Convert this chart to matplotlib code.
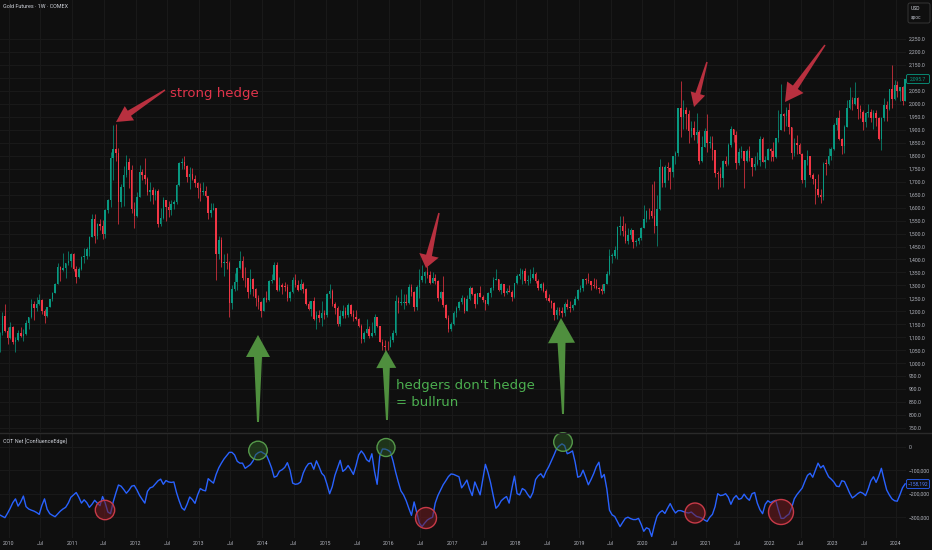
import matplotlib
matplotlib.use('Agg')
import matplotlib.pyplot as plt
from matplotlib.patches import Polygon, Circle, FancyBboxPatch
import numpy as np

plt.rcParams['font.family'] = ['Roboto', 'DejaVu Sans']

BG = '#0f0f0f'
GRID = '#1a1a1a'
TXT = '#b2b5be'
UP = '#089981'
DOWN = '#f23645'
BLUE = '#2962ff'

# ---------------------------------------------------------------
# Gold futures, half-month candles, Nov 2009 .. Feb 2024
# ---------------------------------------------------------------
first_open = 1055
closes = [
    1118, 1182, 1125, 1096,
    1140, 1083, 1090, 1118, 1105, 1113, 1155, 1180, 1228, 1212, 1228, 1244, 1200, 1181, 1215, 1248, 1272, 1307, 1370, 1358, 1367, 1386, 1396, 1421,
    1365, 1333, 1362, 1411, 1415, 1439, 1486, 1556, 1492, 1536, 1530, 1500, 1590, 1628, 1790, 1825, 1810, 1620, 1680, 1725, 1775, 1746, 1596, 1566,
    1640, 1738, 1725, 1711, 1660, 1669, 1650, 1664, 1538, 1561, 1628, 1604, 1590, 1614, 1620, 1687, 1772, 1776, 1760, 1719, 1730, 1712, 1696, 1675,
    1661, 1664, 1643, 1579, 1592, 1597, 1420, 1476, 1387, 1392, 1387, 1234, 1285, 1312, 1367, 1396, 1330, 1327, 1275, 1323, 1288, 1250, 1235, 1202,
    1253, 1244, 1318, 1321, 1379, 1284, 1303, 1295, 1294, 1250, 1275, 1322, 1302, 1282, 1305, 1287, 1228, 1210, 1238, 1171, 1185, 1175, 1195, 1184,
    1265, 1279, 1228, 1213, 1153, 1183, 1200, 1184, 1225, 1190, 1180, 1172, 1145, 1095, 1118, 1133, 1106, 1115, 1180, 1142, 1082, 1065, 1062, 1061,
    1090, 1116, 1239, 1234, 1234, 1235, 1233, 1293, 1273, 1215, 1295, 1322, 1337, 1350, 1340, 1311, 1328, 1316, 1253, 1273, 1224, 1173, 1131, 1152,
    1195, 1211, 1235, 1253, 1203, 1249, 1290, 1268, 1230, 1269, 1256, 1242, 1228, 1269, 1290, 1322, 1325, 1284, 1305, 1271, 1278, 1276, 1257, 1309,
    1338, 1345, 1356, 1318, 1318, 1327, 1345, 1318, 1290, 1305, 1278, 1253, 1241, 1233, 1184, 1206, 1201, 1195, 1230, 1215, 1211, 1226, 1248, 1284,
    1291, 1325, 1322, 1316, 1302, 1298, 1290, 1285, 1277, 1306, 1345, 1413, 1415, 1437, 1524, 1529, 1510, 1472, 1494, 1514, 1468, 1472, 1481, 1523,
    1557, 1587, 1586, 1566, 1530, 1596, 1758, 1694, 1756, 1751, 1737, 1800, 1810, 1985, 1948, 1978, 1962, 1895, 1908, 1879, 1890, 1780, 1835, 1895,
    1850, 1850, 1823, 1734, 1730, 1715, 1780, 1769, 1840, 1905, 1880, 1771, 1815, 1817, 1780, 1818, 1790, 1757, 1768, 1783, 1865, 1776, 1785, 1828,
    1817, 1797, 1870, 1900, 1960, 1954, 1975, 1911, 1810, 1848, 1840, 1807, 1706, 1782, 1800, 1726, 1710, 1672, 1650, 1640, 1770, 1768, 1800, 1826,
    1920, 1945, 1865, 1836, 1910, 1986, 2015, 1999, 2022, 1982, 1970, 1929, 1964, 1970, 1945, 1966, 1945, 1866, 1945, 1994, 1980, 2057, 2020, 2072,
    2051, 2067, 2013, 2095.7,
]
highs = [
    1120, 1196, 1227, 1140,
    1160, 1142, 1100, 1128, 1140, 1130, 1168, 1180, 1249, 1240, 1254, 1265, 1248, 1210, 1215, 1245, 1275, 1310, 1388, 1375, 1424, 1384, 1432, 1424,
    1425, 1375, 1370, 1412, 1445, 1447, 1490, 1575, 1577, 1540, 1556, 1553, 1595, 1632, 1815, 1917, 1923, 1830, 1690, 1760, 1804, 1790, 1763, 1620,
    1660, 1764, 1750, 1790, 1720, 1700, 1680, 1670, 1670, 1600, 1640, 1630, 1625, 1630, 1630, 1692, 1777, 1790, 1798, 1765, 1755, 1754, 1725, 1700,
    1695, 1700, 1685, 1645, 1616, 1616, 1590, 1490, 1488, 1420, 1425, 1395, 1300, 1347, 1370, 1433, 1412, 1370, 1330, 1362, 1330, 1290, 1262, 1240,
    1255, 1280, 1320, 1345, 1392, 1392, 1331, 1310, 1315, 1306, 1280, 1332, 1345, 1320, 1324, 1315, 1290, 1240, 1240, 1255, 1200, 1205, 1240, 1205,
    1272, 1307, 1285, 1235, 1220, 1205, 1225, 1215, 1232, 1230, 1205, 1205, 1175, 1150, 1125, 1170, 1145, 1157, 1191, 1180, 1145, 1095, 1090, 1085,
    1105, 1128, 1263, 1255, 1287, 1265, 1265, 1306, 1306, 1280, 1300, 1362, 1377, 1355, 1375, 1355, 1352, 1345, 1320, 1280, 1338, 1230, 1185, 1160,
    1200, 1220, 1240, 1264, 1255, 1262, 1296, 1295, 1270, 1272, 1296, 1262, 1245, 1275, 1295, 1331, 1362, 1325, 1310, 1306, 1290, 1300, 1282, 1310,
    1345, 1366, 1362, 1366, 1340, 1365, 1370, 1353, 1325, 1310, 1312, 1285, 1265, 1245, 1235, 1215, 1215, 1215, 1235, 1246, 1240, 1230, 1260, 1285,
    1300, 1326, 1330, 1349, 1310, 1330, 1325, 1295, 1305, 1306, 1355, 1442, 1425, 1453, 1530, 1566, 1566, 1540, 1521, 1520, 1515, 1480, 1485, 1525,
    1611, 1590, 1600, 1691, 1704, 1650, 1788, 1760, 1765, 1775, 1755, 1800, 1820, 1985, 2089, 2015, 1990, 1975, 1935, 1933, 1965, 1900, 1875, 1907,
    1962, 1875, 1875, 1815, 1740, 1755, 1785, 1798, 1850, 1916, 1905, 1895, 1830, 1836, 1815, 1825, 1836, 1790, 1800, 1815, 1877, 1872, 1800, 1831,
    1830, 1853, 1870, 1976, 2078, 1966, 1990, 2003, 1910, 1870, 1880, 1850, 1810, 1785, 1824, 1800, 1735, 1712, 1730, 1672, 1775, 1786, 1830, 1835,
    1925, 1950, 1975, 1870, 1920, 2014, 2064, 2025, 2085, 2025, 1995, 1975, 1970, 2000, 1980, 1975, 1975, 1950, 1950, 2022, 2010, 2057, 2152, 2093,
    2088, 2065, 2070, 2097,
]
lows = [
    1045, 1110, 1120, 1075,
    1095, 1075, 1044, 1085, 1100, 1087, 1110, 1130, 1175, 1165, 1200, 1225, 1190, 1155, 1180, 1215, 1240, 1270, 1305, 1316, 1355, 1330, 1380, 1370,
    1355, 1309, 1330, 1360, 1385, 1400, 1415, 1485, 1462, 1480, 1515, 1478, 1483, 1580, 1603, 1705, 1780, 1535, 1603, 1605, 1720, 1675, 1580, 1523,
    1563, 1640, 1705, 1690, 1650, 1627, 1614, 1630, 1527, 1530, 1555, 1550, 1565, 1570, 1595, 1615, 1685, 1750, 1750, 1700, 1672, 1705, 1680, 1636,
    1626, 1650, 1640, 1555, 1562, 1590, 1321, 1400, 1370, 1338, 1365, 1180, 1208, 1280, 1282, 1365, 1320, 1292, 1251, 1265, 1260, 1221, 1210, 1180,
    1202, 1235, 1238, 1310, 1320, 1280, 1277, 1268, 1280, 1240, 1240, 1270, 1295, 1280, 1282, 1272, 1225, 1204, 1183, 1165, 1131, 1160, 1142, 1170,
    1180, 1250, 1220, 1191, 1142, 1142, 1175, 1175, 1180, 1182, 1162, 1165, 1140, 1077, 1080, 1115, 1098, 1100, 1110, 1140, 1080, 1052, 1046, 1050,
    1062, 1080, 1110, 1195, 1225, 1208, 1225, 1230, 1260, 1200, 1205, 1250, 1315, 1310, 1330, 1306, 1310, 1305, 1241, 1248, 1215, 1171, 1122, 1125,
    1148, 1180, 1205, 1230, 1195, 1200, 1245, 1262, 1214, 1228, 1255, 1236, 1205, 1225, 1255, 1284, 1320, 1280, 1265, 1260, 1265, 1275, 1238, 1252,
    1305, 1325, 1307, 1310, 1303, 1308, 1325, 1310, 1282, 1282, 1275, 1245, 1235, 1211, 1167, 1170, 1185, 1180, 1182, 1210, 1196, 1205, 1225, 1242,
    1275, 1280, 1305, 1310, 1281, 1290, 1285, 1270, 1266, 1270, 1305, 1340, 1385, 1405, 1400, 1495, 1490, 1465, 1459, 1480, 1446, 1452, 1458, 1475,
    1520, 1545, 1555, 1560, 1504, 1451, 1590, 1680, 1680, 1705, 1670, 1720, 1770, 1800, 1874, 1905, 1905, 1851, 1873, 1860, 1850, 1767, 1775, 1850,
    1815, 1830, 1785, 1717, 1673, 1680, 1680, 1760, 1765, 1835, 1855, 1750, 1765, 1790, 1677, 1775, 1780, 1721, 1746, 1765, 1760, 1780, 1753, 1785,
    1780, 1780, 1790, 1855, 1900, 1895, 1915, 1885, 1787, 1800, 1805, 1805, 1695, 1680, 1765, 1720, 1690, 1615, 1640, 1618, 1630, 1725, 1765, 1785,
    1824, 1900, 1860, 1805, 1810, 1915, 1980, 1975, 1995, 1940, 1945, 1900, 1910, 1950, 1930, 1904, 1915, 1859, 1823, 1935, 1935, 1978, 1985, 2015,
    2025, 2010, 1996, 2010,
]

# COT net position (thousands of contracts), same half-month grid
cot_net_k = [
    -290, -296, -302, -283,
    -262, -238, -222, -253, -235, -210, -255, -265, -270, -274, -280, -288, -250, -222, -266, -285, -292, -298, -286, -274, -265, -258, -240, -215,
    -205, -195, -215, -240, -226, -238, -258, -245, -228, -240, -251, -212, -240, -278, -285, -236, -198, -163, -168, -182, -198, -185, -168, -165,
    -184, -207, -224, -240, -190, -175, -171, -158, -145, -138, -160, -144, -150, -152, -150, -195, -230, -260, -270, -245, -214, -225, -241, -205,
    -178, -185, -188, -136, -146, -155, -118, -90, -70, -52, -38, -24, -24, -35, -62, -70, -70, -92, -84, -76, -60, -34, -25, -21, -28, -34,
    -60, -90, -130, -125, -104, -98, -88, -68, -100, -155, -160, -158, -150, -112, -88, -72, -70, -96, -60, -85, -113, -125, -160, -200,
    -170, -122, -90, -58, -105, -96, -80, -98, -118, -80, -35, -18, -32, -55, -64, -30, -105, -160, -40, -10, -10, -14, -22, -60,
    -108, -150, -188, -205, -230, -262, -292, -235, -280, -325, -340, -325, -312, -305, -300, -240, -208, -185, -162, -145, -127, -116, -118, -123,
    -128, -175, -160, -142, -180, -208, -150, -178, -205, -140, -75, -110, -155, -210, -262, -250, -230, -220, -212, -240, -180, -125, -200, -205,
    -178, -185, -203, -218, -195, -140, -124, -115, -132, -105, -85, -60, -35, -8, 4, 12, 5, -30, -25, -18, -66, -130, -125, -100,
    -130, -162, -140, -115, -85, -66, -132, -118, -180, -270, -290, -297, -318, -340, -322, -305, -300, -306, -310, -310, -305, -330, -360, -345,
    -350, -382, -335, -296, -280, -272, -284, -262, -242, -265, -282, -272, -272, -276, -280, -282, -278, -288, -297, -300, -304, -312, -318, -300,
    -288, -255, -200, -208, -206, -200, -215, -245, -220, -208, -224, -220, -202, -218, -228, -200, -195, -240, -268, -285, -245, -230, -238, -232,
    -228, -270, -305, -305, -295, -287, -260, -222, -204, -190, -176, -148, -122, -113, -130, -100, -70, -90, -80, -105, -128, -138, -150, -168,
    -170, -145, -148, -172, -198, -218, -210, -200, -193, -198, -208, -180, -145, -128, -152, -125, -92, -140, -184, -205, -222, -230, -232, -205,
    -175, -158.192,
]

opens = [first_open] + closes[:-1]
n = len(closes)
half = 1 / 24
t = 2009 + 10 / 12 + (np.arange(n) + 0.5) * half

W, H = 932, 550
x_left = 2009.86
x_right = x_left + 906 / 63.36

fig = plt.figure(figsize=(W / 100, H / 100), dpi=100, facecolor=BG)


def px_axes(left, top, right, bottom):
    return fig.add_axes([left / W, 1 - bottom / H, (right - left) / W, (bottom - top) / H])


ax = px_axes(0, 0, 906, 432)
ax2 = px_axes(0, 433, 906, 538)

xt, xl = [], []
for yr in range(2010, 2025):
    for off, lab in ((0.0, str(yr)), (0.496, 'Jul')):
        if yr + off < x_right - 0.05:
            xt.append(yr + off)
            xl.append(lab)

for a in (ax, ax2):
    a.set_facecolor(BG)
    for s in a.spines.values():
        s.set_visible(False)
    a.set_xlim(x_left, x_right)
    a.set_xticks(xt)
    a.grid(color=GRID, linewidth=0.7)
    a.set_axisbelow(True)
    a.tick_params(length=0, colors=TXT, labelsize=3.7)
    a.yaxis.tick_right()

# ---- candles ----
cols = [UP if c >= o else DOWN for o, c in zip(opens, closes)]
wick_hi = [max(h, o, c) for h, o, c in zip(highs, opens, closes)]
wick_lo = [min(l, o, c) for l, o, c in zip(lows, opens, closes)]
ax.vlines(t, wick_lo, wick_hi, colors=cols, linewidth=0.5, zorder=2)
body_b = [min(o, c) for o, c in zip(opens, closes)]
body_h = [max(abs(c - o), 2.5) for o, c in zip(opens, closes)]
ax.bar(t, body_h, bottom=body_b, width=half * 0.58, color=cols, linewidth=0, zorder=3)

ax.set_ylim(734.5, 2400.8)
price_ticks = np.arange(750, 2251, 50)
ax.set_yticks(price_ticks)
ax.set_yticklabels([f'{v:,.1f}' for v in price_ticks])
ax.tick_params(axis='y', pad=2)
ax.tick_params(axis='x', labelbottom=False)

# ---- COT line ----
ax2.plot(t, np.array(cot_net_k) * 1000, color=BLUE, linewidth=1.0, zorder=3)
ax2.set_ylim(-388500, 58300)
cot_ticks = [0, -100000, -200000, -300000]
ax2.set_yticks(cot_ticks)
ax2.set_yticklabels(['0'] + [f'\u2212{abs(v):,}' for v in cot_ticks[1:]])
ax2.set_xticklabels(xl)
ax2.tick_params(axis='y', pad=2)
ax2.tick_params(axis='x', pad=2)

# ---- overlay in pixel coordinates for drawings ----
ov = fig.add_axes([0, 0, 1, 1])
ov.set_xlim(0, W)
ov.set_ylim(H, 0)
ov.axis('off')
ov.set_zorder(10)
ov.patch.set_alpha(0)

ov.plot([0, W], [432.5, 432.5], color='#2a2a2a', linewidth=1.0)


def tapered_arrow(tail, tip, head_len, head_w, w_tail, w_neck, color):
    tail = np.array(tail, float)
    tip = np.array(tip, float)
    d = tip - tail
    u = d / np.hypot(*d)
    nrm = np.array([-u[1], u[0]])
    neck = tip - u * head_len
    pts = [tail + nrm * w_tail / 2, neck + nrm * w_neck / 2, neck + nrm * head_w / 2, tip,
           neck - nrm * head_w / 2, neck - nrm * w_neck / 2, tail - nrm * w_tail / 2]
    ov.add_patch(Polygon(pts, closed=True, facecolor=color, edgecolor='none'))


RED_A = '#b8303f'
GREEN_A = '#4f8f3e'
tapered_arrow((165, 90), (116, 122), 16, 17, 1.5, 6, RED_A)
tapered_arrow((439, 213), (426, 268), 13, 20, 1.5, 6, RED_A)
tapered_arrow((707, 62), (694, 107), 14, 15, 1.5, 5, RED_A)
tapered_arrow((825, 45), (785, 102), 18, 20, 1.5, 6, RED_A)
tapered_arrow((258, 422), (258, 335), 22, 24, 2, 8, GREEN_A)
tapered_arrow((387, 420), (386, 350), 18, 20, 2, 7, GREEN_A)
tapered_arrow((563, 414), (561, 318), 25, 27, 2, 8, GREEN_A)

ov.text(170, 93, 'strong hedge', color='#e0344b', fontsize=9.5, va='center', ha='left',
        family='DejaVu Sans')
ov.text(396, 386, "hedgers don't hedge", color='#4caf50', fontsize=9.5, va='center', ha='left',
        family='DejaVu Sans')
ov.text(396, 403, '= bullrun', color='#4caf50', fontsize=9.5, va='center', ha='left',
        family='DejaVu Sans')

# circles on the COT pane
for cx, cy, r in ((105, 510, 9.7), (426, 518, 10.5), (695, 513, 10), (781, 512, 12.5)):
    ov.add_patch(Circle((cx, cy), r, facecolor=(0.45, 0.1, 0.13, 0.55), edgecolor='#c83a48', linewidth=1.0))
for cx, cy, r in ((258, 450.5, 9.3), (386, 447.5, 9), (563, 442, 9.3)):
    ov.add_patch(Circle((cx, cy), r, facecolor=(0.18, 0.35, 0.15, 0.5), edgecolor='#55994a', linewidth=1.0))

# titles
ov.text(3, 7, 'Gold Futures \u00b7 1W \u00b7 COMEX', color='#d1d4dc', fontsize=3.9, va='center', ha='left')
ov.text(3, 441, 'COT Net [ConfluenceEdge]', color='#d1d4dc', fontsize=3.9, va='center', ha='left')

# last value labels
ov.add_patch(FancyBboxPatch((906.5, 74.5), 23, 9, boxstyle='round,pad=0,rounding_size=1.5',
                            facecolor=BG, edgecolor=UP, linewidth=0.6))
ov.text(918, 79, '2,095.7', color=UP, fontsize=3.6, va='center', ha='center')
ov.add_patch(FancyBboxPatch((906.5, 479.5), 23, 9, boxstyle='round,pad=0,rounding_size=1.5',
                            facecolor=BG, edgecolor=BLUE, linewidth=0.6))
ov.text(918, 484, '\u2212158,192', color='#4f7dff', fontsize=3.6, va='center', ha='center')

# currency box
ov.add_patch(FancyBboxPatch((908, 3), 22, 20, boxstyle='round,pad=0,rounding_size=2',
                            facecolor=BG, edgecolor='#3a3a3a', linewidth=0.6))
ov.text(911, 9, 'USD', color='#d1d4dc', fontsize=3.6, va='center', ha='left')
ov.text(911, 17.5, 'apoc', color=TXT, fontsize=3.4, va='center', ha='left')

fig.savefig('out.png', dpi=100, facecolor=BG)
